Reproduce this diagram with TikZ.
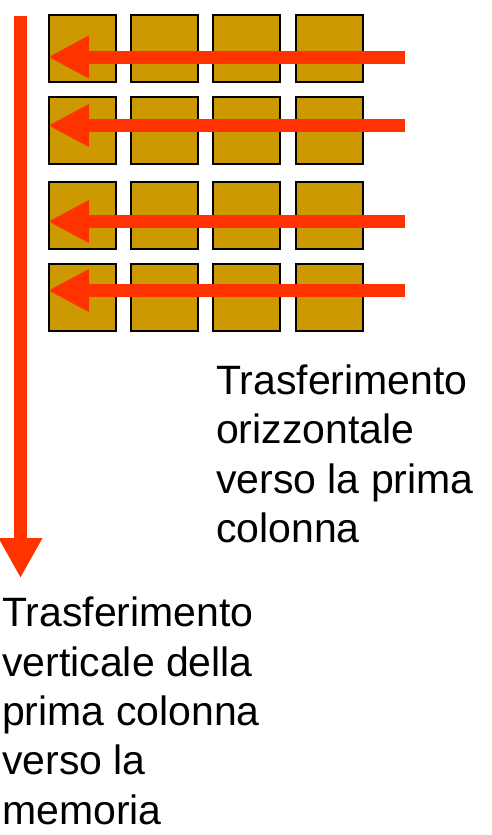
\documentclass[tikz,border=0pt]{standalone}
\usepackage{fontspec}
\setmainfont{Liberation Sans}
\usetikzlibrary{arrows.meta}

\definecolor{ccdgold}{RGB}{204,153,0}
\definecolor{shiftred}{RGB}{255,51,0}

\tikzset{
  pixel/.style={draw=black, line width=2pt, fill=ccdgold, minimum size=67pt, inner sep=0pt},
  transfer/.style={draw=shiftred, line width=13pt, -{Triangle[length=41pt,width=40pt]}},
  caption/.style={align=left, inner sep=0pt, font=\fontsize{41}{49.3}\selectfont},
}

\begin{document}
\begin{tikzpicture}[x=1pt, y=-1pt]
    \useasboundingbox (0,0) rectangle (491,835);

    % 4x4 pixel array
    \foreach \r/\y in {1/48.5,2/130.5,3/215.5,4/297.5}
      \foreach \c/\x in {1/82.5,2/164.5,3/246.5,4/329.5}
        \node[pixel] (c\r\c) at (\x,\y) {};

    % row shift towards the first column
    \coordinate (h1) at (405,57);
    \coordinate (h2) at (405,125.5);
    \coordinate (h3) at (405,221.5);
    \coordinate (h4) at (405,290.5);
    \draw[transfer] (h1) -- (c11.west |- h1);
    \draw[transfer] (h2) -- (c21.west |- h2);
    \draw[transfer] (h3) -- (c31.west |- h3);
    \draw[transfer] (h4) -- (c41.west |- h4);

    % column shift towards the memory
    \coordinate (vtop) at (20.5,16);
    \coordinate (vend) at (20.5,578);
    \draw[transfer, -{Triangle[length=40pt,width=41pt]}] (vtop) -- (vend);

    % base anchor sits on the last line
    \node[caption, anchor=base west] (horiz) at (216,542.5) {Trasferimento\\orizzontale\\verso la prima\\colonna};
    \node[caption, anchor=base west] (vert) at (2,824) {Trasferimento\\verticale della\\prima colonna\\verso la\\memoria};
  \end{tikzpicture}
\end{document}
